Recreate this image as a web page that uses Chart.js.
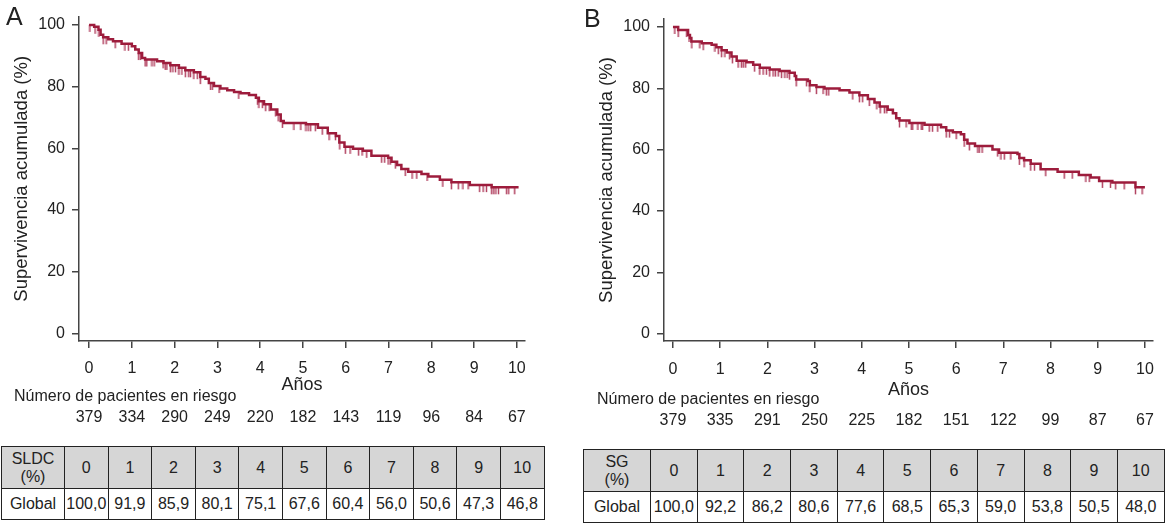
<!DOCTYPE html>
<html>
<head>
<meta charset="utf-8">
<script src="https://cdn.jsdelivr.net/npm/chart.js@4"></script>
<style>
    body { margin: 0; background: #fff; font-family: "Liberation Sans", Arial, sans-serif; }
    #wrap { position: relative; width: 1166px; height: 524px; overflow: hidden; }
    canvas { position: absolute; top: 0; }
    #chartA { left: 0; }
    #chartB { left: 580px; }
    table.surv { position: absolute; border-collapse: collapse; table-layout: fixed; font-size: 16px; color: #222; }
    table.surv td { border: 1.5px solid #222; text-align: center; padding: 0; }
    table.surv tr.head td { background: #d6d6d6; height: 41px; line-height: 18px; }
    table.surv tr.vals td { height: 30px; }
    #tableA { left: 1px; top: 446px; }
    #tableB { left: 583px; top: 449px; }
</style>
</head>
<body>
<div id="wrap">
    <canvas id="chartA" width="560" height="440"></canvas>
    <canvas id="chartB" width="586" height="440"></canvas>
    <table class="surv" id="tableA"></table>
    <table class="surv" id="tableB"></table>
</div>
<script>
// Years on the x axis
const yearTicks = [0, 1, 2, 3, 4, 5, 6, 7, 8, 9, 10];
const survTicks = [0, 20, 40, 60, 80, 100];

// Patients at risk
const riskA = [379, 334, 290, 249, 220, 182, 143, 119, 96, 84, 67];
const riskB = [379, 335, 291, 250, 225, 182, 151, 122, 99, 87, 67];

// Yearly survival (%) tables
const sldcA = [100.0, 91.9, 85.9, 80.1, 75.1, 67.6, 60.4, 56.0, 50.6, 47.3, 46.8];
const sgB = [100.0, 92.2, 86.2, 80.6, 77.6, 68.5, 65.3, 59.0, 53.8, 50.5, 48.0];

// Kaplan-Meier steps, panel A (SLDC)
const stepTimesA = [0, 0.12, 0.22, 0.27, 0.33, 0.45, 0.56, 0.76, 1.0, 1.08, 1.16, 1.24, 1.31, 1.59, 1.74, 1.9, 2.1, 2.25, 2.45, 2.6,
    2.72, 2.8, 2.92, 3.07, 3.23, 3.39, 3.54, 3.74, 3.9, 3.97, 4.09, 4.25, 4.4, 4.48, 4.55, 5.07, 5.35, 5.58, 5.77, 5.85,
    5.97, 6.17, 6.4, 6.6, 6.99, 7.07, 7.2, 7.3, 7.46, 7.77, 7.93, 8.2, 8.47, 8.9, 9.41, 10.04];
const stepSurvA = [100, 99.4, 98.4, 96.8, 96.0, 95.4, 94.7, 93.9, 93.1, 92.0, 90.9, 89.3, 88.8, 88.2, 87.7, 86.9, 86.1, 85.3, 84.7, 83.1,
    82.6, 81.2, 80.2, 79.4, 78.8, 78.3, 77.9, 77.3, 76.4, 75.3, 74.3, 72.6, 71.0, 68.9, 68.2, 67.8, 66.7, 64.9, 64.0, 61.9,
    60.5, 59.9, 59.2, 57.6, 57.0, 55.7, 54.6, 53.3, 52.4, 51.7, 50.9, 49.8, 49.0, 48.1, 47.4, 47.4];
const censorA = [0.02, 0.14, 0.23, 0.33, 0.4, 0.61, 0.84, 0.92, 1.16, 1.2, 1.31, 1.35, 1.47, 1.52, 1.73, 1.78, 1.82, 1.9, 1.96, 2.02,
    2.1, 2.17, 2.25, 2.33, 2.37, 2.45, 2.53, 2.6, 2.84, 2.88, 3.04, 3.5, 3.94, 3.97, 4.05, 4.13, 4.21, 4.36, 4.42, 4.52,
    4.79, 4.95, 5.07, 5.12, 5.18, 5.29, 5.45, 5.61, 5.76, 5.86, 5.99, 6.1, 6.3, 6.38, 6.49, 6.84, 6.91, 6.99, 7.04, 7.16,
    7.39, 7.55, 7.66, 7.9, 8.27, 8.47, 8.63, 8.74, 8.86, 9.13, 9.21, 9.29, 9.41, 9.46, 9.51, 9.57, 9.76, 9.81, 9.95];

// Kaplan-Meier steps, panel B (SG)
const stepTimesB = [0, 0.11, 0.32, 0.36, 0.39, 0.61, 0.82, 0.92, 1.03, 1.14, 1.24, 1.35, 1.56, 1.7, 1.84, 2.05, 2.26, 2.47, 2.58, 2.61,
    2.86, 2.9, 3.04, 3.21, 3.53, 3.74, 3.95, 4.13, 4.27, 4.38, 4.55, 4.66, 4.73, 4.8, 5.01, 5.33, 5.68, 5.79, 5.93, 6.1,
    6.17, 6.24, 6.4, 6.77, 6.91, 7.3, 7.34, 7.44, 7.58, 7.79, 8.15, 8.6, 8.85, 9.03, 9.31, 9.8, 10.0];
const stepSurvB = [100, 99.0, 97.4, 96.4, 95.3, 94.7, 94.2, 93.4, 92.4, 91.7, 90.4, 89.0, 88.5, 87.7, 86.7, 86.1, 85.6, 85.1, 84.0, 82.9,
    82.4, 81.0, 80.4, 79.9, 79.4, 78.6, 77.7, 76.5, 75.4, 74.1, 73.0, 71.9, 70.2, 69.5, 68.7, 68.1, 67.3, 66.2, 65.7, 65.0,
    63.2, 62.0, 61.2, 60.0, 59.0, 58.6, 57.3, 56.5, 55.4, 53.6, 52.8, 51.7, 50.9, 49.8, 49.3, 47.7, 47.7];
const censorB = [0.04, 0.11, 0.29, 0.34, 0.4, 0.57, 0.64, 0.89, 0.96, 1.03, 1.1, 1.2, 1.26, 1.38, 1.45, 1.49, 1.54, 1.73, 1.84, 1.91,
    1.98, 2.05, 2.12, 2.17, 2.23, 2.3, 2.37, 2.42, 2.47, 2.61, 2.83, 2.9, 3.04, 3.18, 3.25, 3.3, 3.81, 3.95, 4.02, 4.16,
    4.32, 4.39, 4.48, 4.53, 4.8, 4.94, 5.05, 5.08, 5.19, 5.26, 5.29, 5.43, 5.5, 5.61, 5.79, 5.86, 6.0, 6.17, 6.28, 6.46,
    6.49, 6.55, 6.88, 6.95, 7.02, 7.16, 7.34, 7.44, 7.58, 7.66, 7.9, 8.29, 8.46, 8.75, 8.82, 9.1, 9.27, 9.38, 9.56, 9.8, 9.94];

const LINE_COLOR = '#9d1c3c';
const CENSOR_COLOR = 'rgba(165, 35, 70, 0.85)';
const AXIS_COLOR = '#444';
const TEXT_COLOR = '#222';

Chart.defaults.font.family = '"Liberation Sans", Arial, sans-serif';
Chart.defaults.color = TEXT_COLOR;
Chart.defaults.animation = false;

// Survival value at time t from the step arrays
function survAt(times, surv, t) {
    let v = surv[0];
    for (let i = 0; i < times.length; i++) {
        if (times[i] <= t) v = surv[i];
    }
    return v;
}

// Censor mark: short vertical tick hanging below the curve
function censorMark() {
    const c = document.createElement('canvas');
    c.width = 3;
    c.height = 16;
    const g = c.getContext('2d');
    g.strokeStyle = CENSOR_COLOR;
    g.lineWidth = 1.5;
    g.beginPath();
    g.moveTo(1.5, 8);
    g.lineTo(1.5, 15);
    g.stroke();
    return c;
}

function formatPct(v) {
    return v.toFixed(1).replace('.', ',');
}

// Draws panel letter, risk label and risk numbers
const riskPlugin = {
    id: 'riskText',
    afterDraw(chart, args, opts) {
        const ctx = chart.ctx;
        const xScale = chart.scales.x;
        ctx.save();
        ctx.fillStyle = TEXT_COLOR;
        ctx.textBaseline = 'middle';
        ctx.font = '25px "Liberation Sans", Arial, sans-serif';
        ctx.textAlign = 'left';
        ctx.fillText(opts.letter, opts.letterX, opts.letterY);
        ctx.font = '16px "Liberation Sans", Arial, sans-serif';
        ctx.fillText('Número de pacientes en riesgo', opts.labelX, opts.labelY);
        ctx.textAlign = 'center';
        opts.risk.forEach((n, i) => {
            ctx.fillText(String(n), xScale.getPixelForValue(yearTicks[i]), opts.riskY);
        });
        ctx.restore();
    }
};

function makeChart(id, cfg) {
    const lineData = cfg.times.map((t, i) => ({ x: t, y: cfg.surv[i] }));
    const censorData = cfg.censor.map(t => ({ x: t, y: survAt(cfg.times, cfg.surv, t) }));
    const mark = censorMark();

    new Chart(document.getElementById(id), {
        type: 'scatter',
        data: {
            datasets: [{
                data: lineData,
                showLine: true,
                stepped: true,
                borderColor: LINE_COLOR,
                borderWidth: 2.5,
                pointRadius: 0
            }, {
                data: censorData,
                pointStyle: mark,
                pointRadius: 8
            }]
        },
        options: {
            responsive: false,
            layout: { padding: cfg.padding },
            plugins: {
                legend: { display: false },
                tooltip: { enabled: false },
                riskText: cfg.risk
            },
            scales: {
                x: {
                    type: 'linear',
                    min: cfg.xMin,
                    max: cfg.xMax,
                    afterBuildTicks: s => { s.ticks = yearTicks.map(v => ({ value: v })); },
                    afterFit: s => { s.height = 99; },
                    grid: { drawOnChartArea: false, tickLength: 7, color: AXIS_COLOR, lineWidth: 1.5 },
                    border: { color: AXIS_COLOR, width: 1.5 },
                    ticks: { font: { size: 16 }, color: TEXT_COLOR, padding: cfg.tickPad, maxRotation: 0 },
                    title: { display: true, text: 'Años', font: { size: 18 }, color: TEXT_COLOR, padding: { top: 0, bottom: cfg.titleBottom } }
                },
                y: {
                    type: 'linear',
                    min: cfg.yMin,
                    max: cfg.yMax,
                    afterBuildTicks: s => { s.ticks = survTicks.map(v => ({ value: v })); },
                    afterFit: s => { s.width = cfg.yWidth; },
                    grid: { drawOnChartArea: false, tickLength: 7, color: AXIS_COLOR, lineWidth: 1.5 },
                    border: { color: AXIS_COLOR, width: 1.5 },
                    ticks: { font: { size: 16 }, color: TEXT_COLOR, padding: 7 },
                    title: { display: true, text: 'Supervivencia acumulada (%)', font: { size: 18.5 }, color: TEXT_COLOR, padding: { top: cfg.yTitlePad, bottom: 0 } }
                }
            }
        },
        plugins: [riskPlugin]
    });
}

makeChart('chartA', {
    times: stepTimesA, surv: stepSurvA, censor: censorA,
    padding: { top: 15, right: 35, left: 0, bottom: 0 },
    xMin: -0.235, xMax: 10.19, yMin: -2.42, yMax: 102.7,
    yWidth: 79, yTitlePad: 11, titleBottom: 44, tickPad: 11,
    risk: { letter: 'A', letterX: 6, letterY: 18, labelX: 14, labelY: 397, riskY: 418, risk: riskA }
});

makeChart('chartB', {
    times: stepTimesB, surv: stepSurvB, censor: censorB,
    padding: { top: 19, right: 12, left: 0, bottom: 0 },
    xMin: -0.19, xMax: 10.17, yMin: -2.42, yMax: 102.6,
    yWidth: 84, yTitlePad: 16, titleBottom: 39, tickPad: 12,
    risk: { letter: 'B', letterX: 4, letterY: 20, labelX: 17, labelY: 400, riskY: 421, risk: riskB }
});

// Bottom tables
function buildTable(id, label, values, firstWidth, colWidth) {
    const table = document.getElementById(id);
    let html = '<colgroup><col style="width:' + firstWidth + 'px">';
    yearTicks.forEach(() => { html += '<col style="width:' + colWidth + 'px">'; });
    html += '</colgroup><tr class="head"><td>' + label + '</td>';
    yearTicks.forEach(y => { html += '<td>' + y + '</td>'; });
    html += '</tr><tr class="vals"><td>Global</td>';
    values.forEach(v => { html += '<td>' + formatPct(v) + '</td>'; });
    html += '</tr>';
    table.innerHTML = html;
}

buildTable('tableA', 'SLDC<br>(%)', sldcA, 63, 43.6);
buildTable('tableB', 'SG<br>(%)', sgB, 67, 46.7);
</script>
</body>
</html>
